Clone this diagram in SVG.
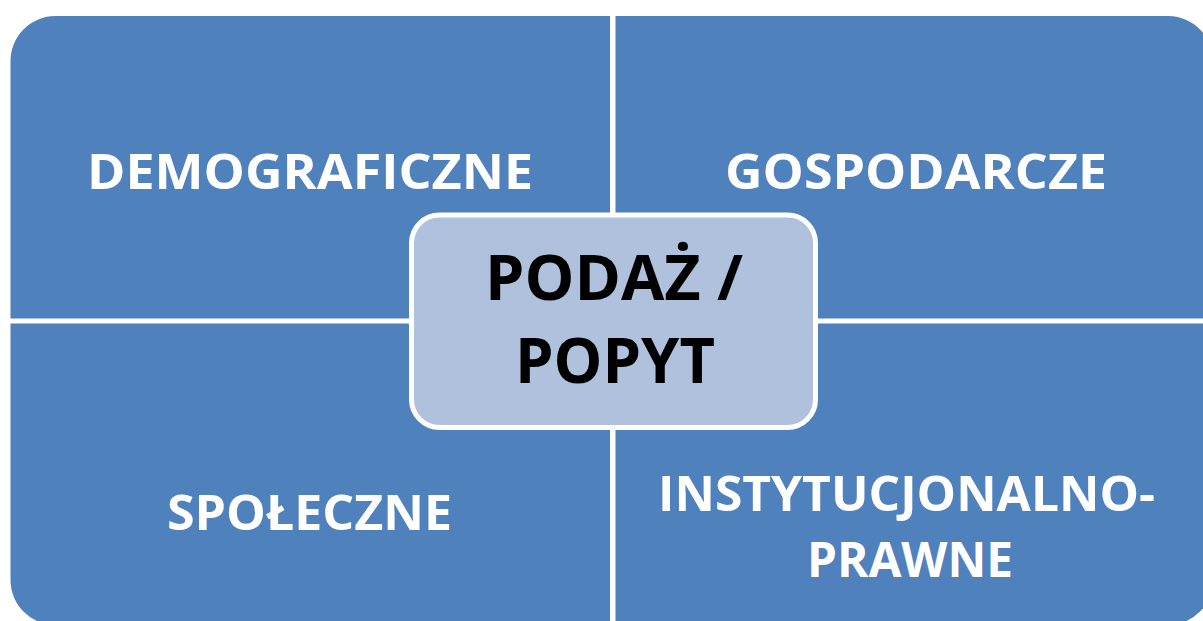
<svg xmlns="http://www.w3.org/2000/svg" width="1203" height="621" viewBox="0 0 1203 621">
<style>
.q{fill:#4F81BD;}
.lbl{font-family:"Open Sans","Liberation Sans",sans-serif;font-weight:bold;font-size:48px;fill:#FFFFFF;}
.ctr{fill:#B0C1DE;stroke:#FFFFFF;stroke-width:5;}
.ct{font-family:"Open Sans","Liberation Sans",sans-serif;font-weight:bold;font-size:63px;fill:#000000;}
</style>
<rect width="1203" height="621" fill="#FFFFFF"/>
<g id="demograficzne">
<path class="q" d="M10.5 318.5 V61 A45 45 0 0 1 55.5 16 H610 V318.5 Z"/>
<text class="lbl" x="87" y="189" textLength="446" lengthAdjust="spacingAndGlyphs">DEMOGRAFICZNE</text>
</g>
<g id="gospodarcze">
<path class="q" d="M615.5 16 H1168 A45 45 0 0 1 1213 61 V318.5 H615.5 Z"/>
<text class="lbl" x="725" y="189" textLength="382" lengthAdjust="spacingAndGlyphs">GOSPODARCZE</text>
</g>
<g id="spoleczne">
<path class="q" d="M10.5 323.5 H610 V625 H55.5 A45 45 0 0 1 10.5 580 Z"/>
<text class="lbl" x="167" y="530" textLength="285" lengthAdjust="spacingAndGlyphs">SPOŁECZNE</text>
</g>
<g id="instytucjonalno-prawne">
<path class="q" d="M615.5 323.5 H1213 V580 A45 45 0 0 1 1168 625 H615.5 Z"/>
<text class="lbl" x="658" y="510.5" textLength="497" lengthAdjust="spacingAndGlyphs">INSTYTUCJONALNO-</text>
<text class="lbl" x="807" y="577" textLength="206" lengthAdjust="spacingAndGlyphs">PRAWNE</text>
</g>
<g id="podaz-popyt">
<rect class="ctr" x="411.5" y="215" width="404" height="212.5" rx="28" ry="28"/>
<text class="ct" x="485" y="300" textLength="258" lengthAdjust="spacingAndGlyphs">PODAŻ /</text>
<text class="ct" x="515" y="383" textLength="200" lengthAdjust="spacingAndGlyphs">POPYT</text>
</g>
</svg>
